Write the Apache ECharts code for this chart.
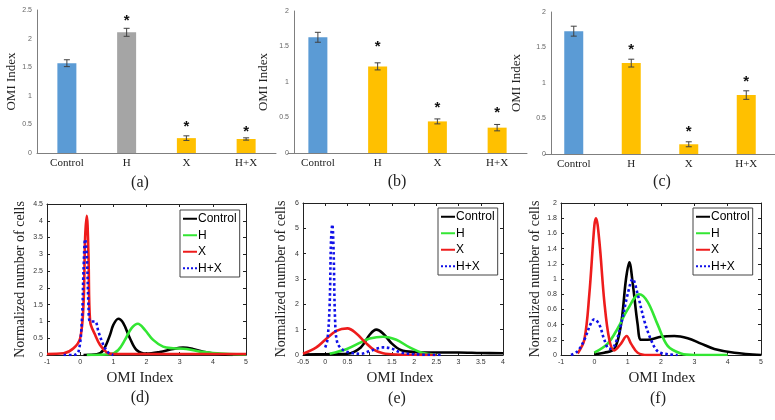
<!DOCTYPE html>
<html>
<head>
<meta charset="utf-8">
<script src="https://cdn.jsdelivr.net/npm/echarts@6/dist/echarts.min.js"></script>
<style>html,body{margin:0;padding:0;background:#fff}#c{width:775px;height:420px}</style>
</head>
<body>
<div id="c"></div>
<script>
// ---------- DATA ----------
const categories = ['Control', 'H', 'X', 'H+X'];
const omiA = [1.57, 2.11, 0.26, 0.245];
const errA = [0.06, 0.07, 0.04, 0.02];
const starA = ['-', 2.38, 0.52, 0.44];
const omiB = [1.63, 1.22, 0.445, 0.357];
const errB = [0.07, 0.05, 0.035, 0.045];
const starB = ['-', 1.55, 0.69, 0.62];
const omiC = [1.73, 1.28, 0.137, 0.83];
const errC = [0.07, 0.055, 0.035, 0.06];
const starC = ['-', 1.525, 0.37, 1.075];

const dControl = [[0.1,0],[0.5,0.02],[0.7,0.15],[0.9,0.6],[1.0,0.9],[1.15,1.08],[1.3,0.95],[1.5,0.5],[1.7,0.15],[2.0,0.04],[2.4,0.09],[2.8,0.18],[3.1,0.22],[3.4,0.18],[3.8,0.08],[4.2,0.02],[4.6,0]];
const dH = [[0.2,0],[0.9,0.02],[1.15,0.15],[1.35,0.45],[1.55,0.8],[1.74,0.93],[1.95,0.75],[2.2,0.45],[2.5,0.25],[2.8,0.2],[3.2,0.18],[3.6,0.1],[4.0,0.06],[4.5,0.03],[5,0.02]];
const dX = [[-1,0.03],[-0.5,0.05],[-0.2,0.2],[0,0.5],[0.1,1.5],[0.15,3.5],[0.2,4.15],[0.25,3.0],[0.3,1.0],[0.45,0.6],[0.6,0.3],[0.8,0.08],[1.0,0.03],[2,0.03],[3,0.03],[4,0.03],[5,0.03]];
const dHX = [[-0.5,0],[-0.2,0],[-0.05,0.1],[0.05,1.0],[0.1,2.5],[0.15,3.45],[0.2,3.0],[0.25,1.5],[0.3,1.0],[0.45,1.0],[0.55,0.7],[0.7,0.3],[0.85,0.07],[1.0,0]];

const eControl = [[-0.5,0.02],[0,0.03],[0.5,0.05],[0.8,0.3],[1.0,0.8],[1.15,1.0],[1.3,0.85],[1.5,0.45],[1.7,0.2],[2.0,0.12],[2.5,0.1],[3,0.1],[3.5,0.08],[4,0.07]];
const eH = [[0.1,0.05],[0.5,0.25],[0.8,0.5],[1.0,0.65],[1.3,0.72],[1.6,0.6],[1.9,0.3],[2.2,0.08],[2.5,0.02]];
const eX = [[-0.5,0.05],[-0.2,0.3],[0,0.6],[0.25,0.95],[0.5,1.05],[0.7,0.85],[0.9,0.5],[1.1,0.2],[1.3,0.07],[1.6,0.02],[2.0,0.01],[2.5,0]];
const eHX = [[0,0.3],[0.05,0.6],[0.1,2.0],[0.13,4.5],[0.16,5.15],[0.19,4.0],[0.22,1.5],[0.27,0.5],[0.4,0.2],[0.6,0.08],[0.8,0.05],[1.0,0.15],[1.3,0.3],[1.5,0.25],[1.7,0.1],[2.0,0.03],[2.6,0]];

const fControl = [[0,0.01],[0.3,0.03],[0.6,0.08],[0.8,0.4],[0.95,1.0],[1.05,1.22],[1.15,0.95],[1.3,0.4],[1.4,0.2],[1.6,0.2],[2.0,0.24],[2.4,0.25],[2.8,0.22],[3.2,0.15],[3.6,0.08],[4.2,0.03],[5,0]];
const fH = [[0,0.03],[0.4,0.15],[0.7,0.35],[1.0,0.6],[1.35,0.8],[1.6,0.7],[1.9,0.4],[2.2,0.12],[2.6,0.02],[3,0],[4,0]];
const fX = [[-0.5,0.02],[-0.3,0.2],[-0.15,0.8],[0,1.7],[0.05,1.8],[0.15,1.5],[0.3,0.7],[0.45,0.2],[0.6,0.06],[0.8,0.15],[0.97,0.25],[1.1,0.15],[1.3,0.03],[1.6,0],[2,0]];
const fHX = [[-0.7,0],[-0.5,0.05],[-0.3,0.2],[-0.1,0.42],[0,0.47],[0.15,0.4],[0.3,0.2],[0.45,0.08],[0.6,0.12],[0.8,0.4],[1.0,0.8],[1.15,1.0],[1.3,0.8],[1.5,0.45],[1.7,0.2],[1.9,0.05],[2.2,0.01],[2.5,0]];

// ---------- STYLE ----------
const SERIF = 'Liberation Serif';
const SANS = 'Liberation Sans';
const BLUE = '#5B9BD5', GOLD = '#FFC000', GRAY = '#A5A5A5';
const barColorsA = [BLUE, GRAY, GOLD, GOLD];
const barColorsBC = [BLUE, GOLD, GOLD, GOLD];

const chart = echarts.init(document.getElementById('c'));

function catAxis(gi) {
  return {
    type: 'category', gridIndex: gi, data: categories,
    axisLine: { lineStyle: { color: '#7f7f7f', width: 1 } },
    axisTick: { show: false },
    axisLabel: { fontFamily: SERIF, fontSize: 11, color: '#222', margin: 5 }
  };
}
function barY(gi, max, gap, off) {
  return {
    type: 'value', gridIndex: gi, min: 0, max: max, interval: 0.5, offset: off,
    name: 'OMI Index', nameLocation: 'middle', nameGap: gap, nameRotate: 90,
    nameTextStyle: { fontFamily: SERIF, fontSize: 13, color: '#222' },
    splitLine: { show: false }, axisTick: { show: false },
    axisLine: { show: true, lineStyle: { color: '#7f7f7f', width: 1 } },
    axisLabel: { fontFamily: SANS, fontSize: 7, color: '#666', margin: 5 }
  };
}
function valX(gi, min, max, iv, show, pos) {
  return {
    type: 'value', gridIndex: gi, min: min, max: max, interval: iv, position: pos,
    splitLine: { show: false },
    axisLine: { show: true, onZero: false, lineStyle: { color: '#222', width: 1 } },
    axisTick: { show: true, inside: true, length: 3, lineStyle: { color: '#222' } },
    axisLabel: { show: show, fontFamily: SANS, fontSize: 7, color: '#333', margin: 4 }
  };
}
function valY(gi, min, max, iv, show, pos, gap) {
  const o = {
    type: 'value', gridIndex: gi, min: min, max: max, interval: iv, position: pos,
    splitLine: { show: false },
    axisLine: { show: true, onZero: false, lineStyle: { color: '#222', width: 1 } },
    axisTick: { show: true, inside: true, length: 3, lineStyle: { color: '#222' } },
    axisLabel: { show: show, fontFamily: SANS, fontSize: 7, color: '#333', margin: 4 }
  };
  if (show) {
    o.name = 'Normalized number of cells'; o.nameLocation = 'middle'; o.nameGap = gap; o.nameRotate = 90;
    o.nameTextStyle = { fontFamily: SERIF, fontSize: 14, color: '#222' };
  }
  return o;
}

function barSeries(ai, vals, colors) {
  return {
    type: 'bar', xAxisIndex: ai, yAxisIndex: ai, barWidth: 19,
    data: vals.map((v, i) => ({ value: v, itemStyle: { color: colors[i] } }))
  };
}
function errSeries(ai, vals, errs) {
  return {
    type: 'custom', xAxisIndex: ai, yAxisIndex: ai, z: 5,
    data: vals.map((v, i) => [i, v, errs[i]]),
    encode: { x: 0, y: 1 },
    renderItem: function (params, api) {
      const i = api.value(0), v = api.value(1), e = api.value(2);
      const t = api.coord([i, v + e]), b = api.coord([i, v - e]);
      const st = { stroke: '#404040', lineWidth: 1 };
      return { type: 'group', children: [
        { type: 'line', shape: { x1: t[0], y1: t[1], x2: b[0], y2: b[1] }, style: st },
        { type: 'line', shape: { x1: t[0] - 3, y1: t[1], x2: t[0] + 3, y2: t[1] }, style: st },
        { type: 'line', shape: { x1: b[0] - 3, y1: b[1], x2: b[0] + 3, y2: b[1] }, style: st }
      ]};
    }
  };
}
function starSeries(ai, stars) {
  return {
    type: 'custom', xAxisIndex: ai, yAxisIndex: ai, z: 6,
    data: stars.map((s, i) => [i, s]),
    encode: { x: 0, y: 1 },
    renderItem: function (params, api) {
      const v = api.value(1);
      if (isNaN(v)) return null;
      const p = api.coord([api.value(0), v]);
      return { type: 'text', x: p[0], y: p[1] + 4,
        style: { text: '*', fontFamily: SANS, fontSize: 15, fontWeight: 'bold', fill: '#111', align: 'center', verticalAlign: 'middle' } };
    }
  };
}
const curveStyles = {
  'Control': { color: '#000000', type: 'solid' },
  'H': { color: '#33E633', type: 'solid' },
  'X': { color: '#EE1C1C', type: 'solid' },
  'H+X': { color: '#1010E8', type: 'dotted' }
};
function curve(ai, name, data) {
  const s = curveStyles[name];
  return {
    type: 'line', name: name, xAxisIndex: ai, yAxisIndex: ai, data: data,
    showSymbol: false, symbol: 'none', smooth: 0.35, clip: true,
    itemStyle: { color: s.color },
    lineStyle: { color: s.color, width: 2.6, type: s.type }
  };
}
function legend(left, top) {
  return {
    data: ['Control', 'H', 'X', 'H+X'], orient: 'vertical', left: left, top: top,
    backgroundColor: '#fff', borderColor: '#444', borderWidth: 1,
    padding: [2, 3, 2, 2], itemWidth: 14, itemHeight: 10, itemGap: 3,
    itemStyle: { opacity: 0 },
    textStyle: { fontFamily: SANS, fontSize: 12, color: '#000', lineHeight: 13.5, padding: [0, 0, 0, -4] },
    selectedMode: false
  };
}
function txt(x, y, s, size) {
  return { type: 'text', x: x, y: y, style: { text: s, fontFamily: SERIF, fontSize: size, fill: '#222', align: 'center', verticalAlign: 'middle' } };
}

const option = {
  animation: false,
  backgroundColor: '#fff',
  grid: [
    { left: 37, top: 10, width: 239, height: 143 },
    { left: 288, top: 11, width: 239, height: 142 },
    { left: 545, top: 12, width: 239, height: 142 },
    { left: 47, top: 204, width: 199, height: 151 },
    { left: 303, top: 203, width: 200, height: 152 },
    { left: 561, top: 203, width: 200, height: 152 }
  ],
  xAxis: [
    catAxis(0), catAxis(1), catAxis(2),
    valX(3, -1, 5, 1, true, 'bottom'), valX(4, -0.5, 4, 0.5, true, 'bottom'), valX(5, -1, 5, 1, true, 'bottom'),
    valX(3, -1, 5, 1, false, 'top'), valX(4, -0.5, 4, 0.5, false, 'top'), valX(5, -1, 5, 1, false, 'top')
  ],
  yAxis: [
    barY(0, 2.5, 19, 0), barY(1, 2, 24, -6), barY(2, 2, 28, -6),
    valY(3, 0, 4.5, 0.5, true, 'left', 20), valY(4, 0, 6, 1, true, 'left', 15), valY(5, 0, 2, 0.2, true, 'left', 19),
    valY(3, 0, 4.5, 0.5, false, 'right'), valY(4, 0, 6, 1, false, 'right'), valY(5, 0, 2, 0.2, false, 'right')
  ],
  legend: [legend(180, 210), legend(438, 208), legend(693, 208)],
  graphic: [
    txt(140, 183, '(a)', 16), txt(397, 182, '(b)', 16), txt(662, 182, '(c)', 16),
    txt(140, 378, 'OMI Index', 15), txt(400, 378, 'OMI Index', 15), txt(662, 378, 'OMI Index', 15),
    txt(140, 398, '(d)', 16), txt(397, 399, '(e)', 16), txt(658, 399, '(f)', 16)
  ],
  series: [
    barSeries(0, omiA, barColorsA), errSeries(0, omiA, errA), starSeries(0, starA),
    barSeries(1, omiB, barColorsBC), errSeries(1, omiB, errB), starSeries(1, starB),
    barSeries(2, omiC, barColorsBC), errSeries(2, omiC, errC), starSeries(2, starC),
    curve(3, 'Control', dControl), curve(3, 'H', dH), curve(3, 'X', dX), curve(3, 'H+X', dHX),
    curve(4, 'Control', eControl), curve(4, 'H', eH), curve(4, 'X', eX), curve(4, 'H+X', eHX),
    curve(5, 'Control', fControl), curve(5, 'H', fH), curve(5, 'X', fX), curve(5, 'H+X', fHX)
  ]
};
chart.setOption(option);
</script>
</body>
</html>
